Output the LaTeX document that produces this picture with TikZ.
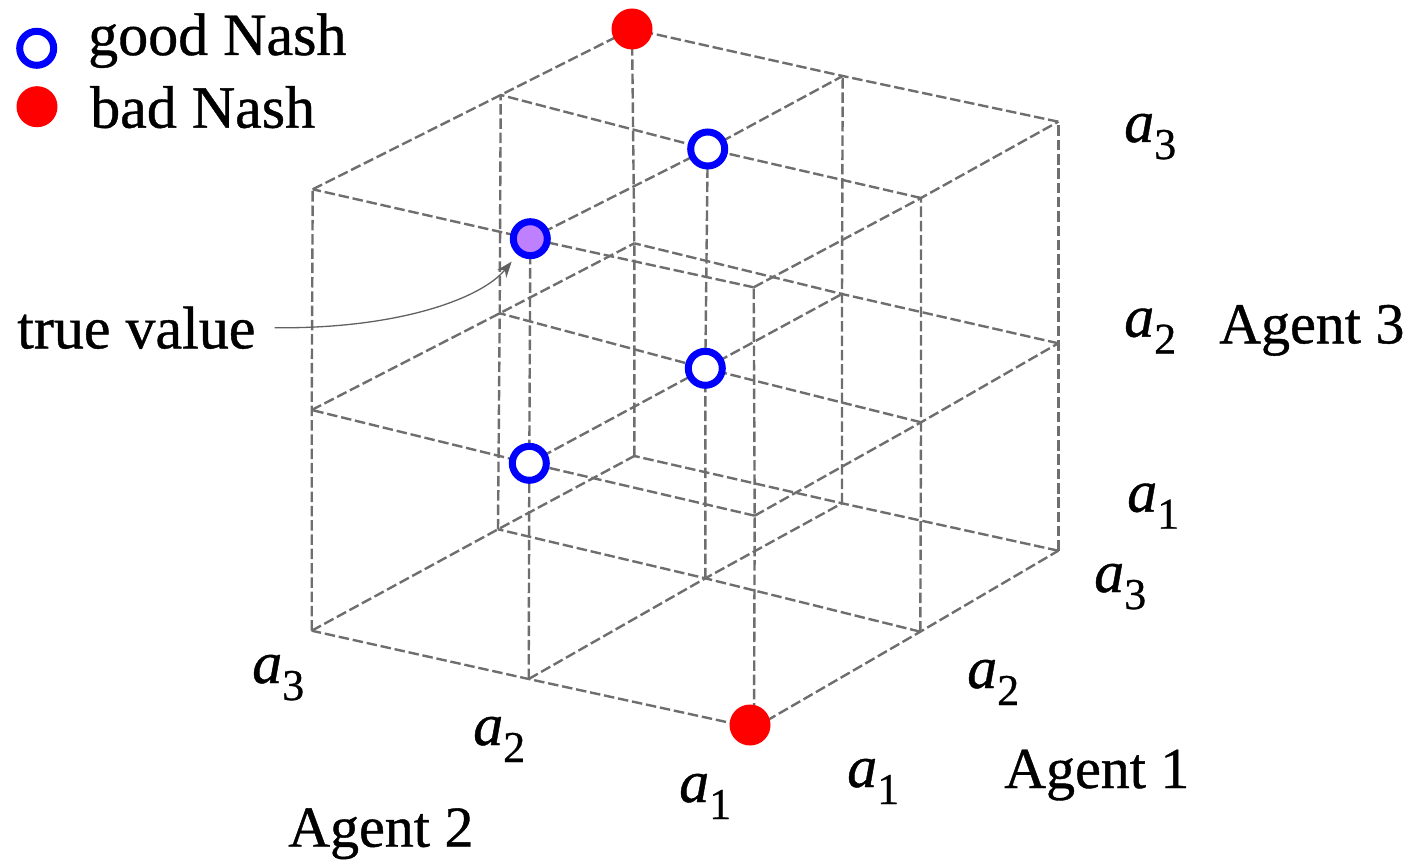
\documentclass[tikz,border=0pt]{standalone}
\usepackage{fontspec}
\setmainfont{Liberation Serif}[FakeBold=0.7]
\usetikzlibrary{arrows.meta}
\definecolor{gridgray}{HTML}{6E6E6E}
\definecolor{purp}{HTML}{BF80FF}
\newcommand{\alab}[1]{\textit{a}\raisebox{-17pt}{\fontsize{44}{44}\selectfont #1}}
\begin{document}
\begin{tikzpicture}[x=1pt,y=-1pt,
  gridline/.style={draw=gridgray, line width=2.4pt, dash pattern=on 10.5pt off 3.8pt},
  good/.style={circle, draw=blue, fill=white, line width=7pt, minimum size=34pt, inner sep=0pt},
  bad/.style={circle, fill=red, minimum size=41pt, inner sep=0pt},
  truev/.style={circle, draw=blue, fill=purp, line width=7pt, minimum size=34pt, inner sep=0pt},
  bigtext/.style={font=\fontsize{60}{72}\selectfont, anchor=base west, inner sep=0pt},
  agent/.style={font=\fontsize{58}{70}\selectfont, anchor=base west, inner sep=0pt},
  axlabel/.style={font=\fontsize{60}{72}\selectfont, anchor=base west, inner sep=0pt},
  pointer/.style={draw=black!62, line width=1.3pt, -{Stealth[length=16pt,width=12pt]}}
]
\useasboundingbox (0,0) rectangle (1415,866);
% lattice points p<i><j><k>: i = Agent 2, j = Agent 1, k = Agent 3
\coordinate (p000) at (754,728);
\coordinate (p001) at (754.7,515.7);
\coordinate (p002) at (753.7,287.3);
\coordinate (p100) at (528.7,679);
\coordinate (p101) at (529.3,463.3);
\coordinate (p102) at (530.3,238.7);
\coordinate (p200) at (311.7,630.7);
\coordinate (p201) at (311.7,410);
\coordinate (p202) at (312.7,189.3);
\coordinate (p010) at (920.3,631.7);
\coordinate (p011) at (921,422.3);
\coordinate (p012) at (921,198);
\coordinate (p110) at (705.3,578.3);
\coordinate (p111) at (705.3,368.3);
\coordinate (p112) at (707.7,149);
\coordinate (p210) at (498,529.3);
\coordinate (p211) at (499.7,313.3);
\coordinate (p212) at (500.7,95);
\coordinate (p020) at (1058.3,550.7);
\coordinate (p021) at (1058.3,343.3);
\coordinate (p022) at (1058.3,121.7);
\coordinate (p120) at (842,503.3);
\coordinate (p121) at (842,294);
\coordinate (p122) at (842.7,76);
\coordinate (p220) at (634.3,456);
\coordinate (p221) at (634.3,243.3);
\coordinate (p222) at (632,29);
% grid lines
\foreach \i in {0,1,2}{\foreach \j in {0,1,2}{\draw[gridline] (p\i\j0) -- (p\i\j1) -- (p\i\j2);}}
\foreach \i in {0,1,2}{\foreach \k in {0,1,2}{\draw[gridline] (p\i0\k) -- (p\i1\k) -- (p\i2\k);}}
\foreach \j in {0,1,2}{\foreach \k in {0,1,2}{\draw[gridline] (p0\j\k) -- (p1\j\k) -- (p2\j\k);}}
% equilibria
\node[bad] (bad1) at ([shift={(-4,-3)}]p000) {};
\node[bad] (bad2) at (p222) {};
\node[good] (g1) at (p112) {};
\node[good] (g2) at (p111) {};
\node[good] (g3) at (p101) {};
\node[truev] (tv) at (p102) {};
% legend
\node[good] (lg) at (36.7,48.3) {};
\node[bad] (lb) at (37,106.7) {};
\node[bigtext] (lgt) at (88,55) {good Nash};
\node[bigtext] (lbt) at (90,127.7) {bad Nash};
% true value pointer
\node[bigtext] (tvt) at (17,348.3) {true value};
\draw[pointer, shorten >=9pt] ([xshift=19pt]tvt.east) .. controls (400,329) and (482,298) .. (tv);
% Agent 3 axis
\node[axlabel] (z3) at (1124,142) {\alab{3}};
\node[axlabel] (z2) at (1124,336.7) {\alab{2}};
\node[axlabel] (z1) at (1127,511.7) {\alab{1}};
\node[agent] (ag3) at (1219,343.3) {Agent 3};
% Agent 1 axis
\node[axlabel] (x3) at (1094,592) {\alab{3}};
\node[axlabel] (x2) at (967,688) {\alab{2}};
\node[axlabel] (x1) at (847,787) {\alab{1}};
\node[agent] (ag1) at (1004,788) {Agent 1};
% Agent 2 axis
\node[axlabel] (y3) at (252,683) {\alab{3}};
\node[axlabel] (y2) at (473,745) {\alab{2}};
\node[axlabel] (y1) at (679,802) {\alab{1}};
\node[agent] (ag2) at (288,846.7) {Agent 2};
\end{tikzpicture}
\end{document}
